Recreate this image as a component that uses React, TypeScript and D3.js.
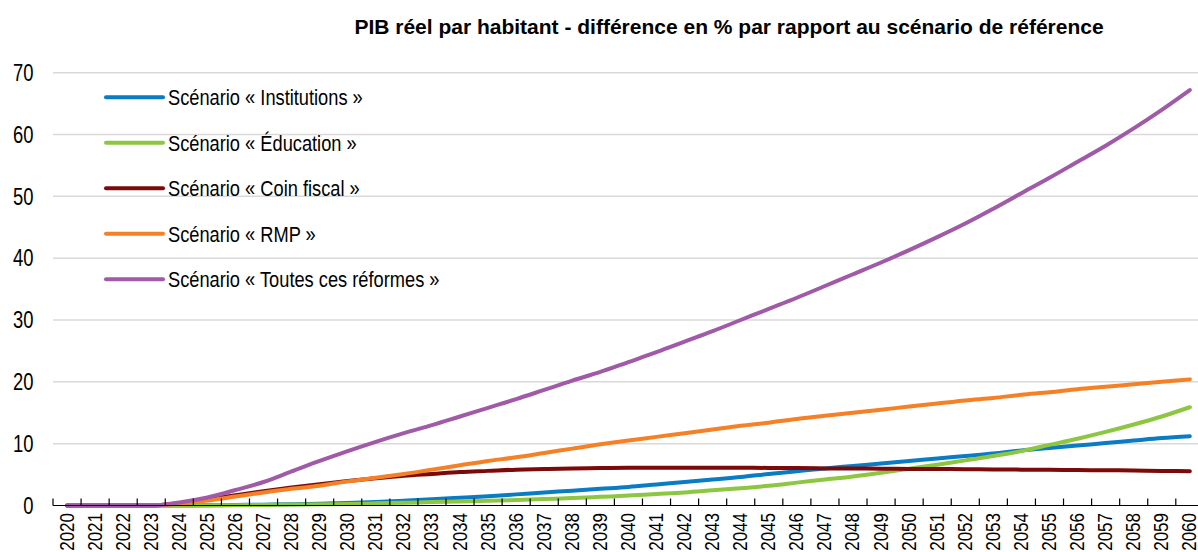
import React, { useEffect, useRef } from 'react';
import * as d3 from 'd3';

const years = d3.range(2020, 2061).map(String);

const institutions = [0, 0, 0, 0, 0, 0.03, 0.08, 0.13, 0.2, 0.3, 0.42, 0.58, 0.78, 1.0, 1.25, 1.5, 1.8, 2.1, 2.4, 2.7, 3.0, 3.4, 3.8, 4.2, 4.6, 5.1, 5.55, 6.0, 6.4, 6.8, 7.2, 7.6, 8.0, 8.4, 8.9, 9.3, 9.7, 10.1, 10.5, 10.9, 11.2];
const education = [0, 0, 0, 0, 0, 0.02, 0.05, 0.1, 0.15, 0.2, 0.25, 0.35, 0.45, 0.55, 0.65, 0.75, 0.9, 1.05, 1.2, 1.4, 1.6, 1.85, 2.1, 2.45, 2.8, 3.2, 3.7, 4.2, 4.7, 5.3, 5.95, 6.6, 7.3, 8.0, 8.8, 9.8, 10.8, 11.9, 13.1, 14.4, 15.9];
const coinFiscal = [0, 0, 0, 0, 0.35, 1.0, 1.65, 2.3, 2.9, 3.45, 3.95, 4.4, 4.8, 5.1, 5.4, 5.6, 5.8, 5.9, 6.0, 6.05, 6.1, 6.1, 6.1, 6.1, 6.1, 6.08, 6.05, 6.0, 5.98, 5.95, 5.92, 5.9, 5.87, 5.84, 5.8, 5.77, 5.73, 5.7, 5.66, 5.6, 5.55];
const rmp = [0, 0, 0, 0, 0.3, 0.8, 1.45, 2.1, 2.7, 3.2, 3.9, 4.5, 5.1, 5.8, 6.5, 7.2, 7.8, 8.5, 9.2, 9.9, 10.5, 11.1, 11.7, 12.3, 12.9, 13.4, 14.0, 14.5, 15.0, 15.5, 16.0, 16.5, 17.0, 17.4, 17.9, 18.3, 18.8, 19.2, 19.6, 20.0, 20.4];
const toutes = [0, 0, 0, 0, 0.5, 1.3, 2.5, 3.8, 5.5, 7.2, 8.8, 10.3, 11.7, 13.0, 14.4, 15.8, 17.2, 18.7, 20.2, 21.6, 23.2, 24.8, 26.5, 28.2, 30.0, 31.8, 33.6, 35.5, 37.4, 39.3, 41.3, 43.4, 45.6, 48.0, 50.5, 53.0, 55.6, 58.2, 61.0, 64.0, 67.2];

const seriesNames = [
  'Scénario « Institutions »',
  'Scénario « Éducation »',
  'Scénario « Coin fiscal »',
  'Scénario « RMP »',
  'Scénario « Toutes ces réformes »',
];
const seriesValues = [institutions, education, coinFiscal, rmp, toutes];
const seriesColors = ['#0a7cc4', '#8dc641', '#7d0a0a', '#f58025', '#a05aa8'];
const yTicks = [0, 10, 20, 30, 40, 50, 60, 70];

const title = 'PIB réel par habitant - différence en % par rapport au scénario de référence';

const W = 1198;
const H = 552;
const FONT = '"Liberation Sans", Arial, sans-serif';
const NARROW = 0.81; // mimic Arial Narrow

export default function App() {
  const ref = useRef<SVGSVGElement | null>(null);

  useEffect(() => {
    document.body.style.margin = '0';
    const svg = d3.select(ref.current);
    svg.selectAll('*').remove();

    const x = d3.scaleBand().domain(years).range([53, 53 + 41 * 28.07]).padding(0);
    const y = d3.scaleLinear().domain([0, 70]).range([505.5, 72.7]);
    const cx = (yr: string) => (x(yr) as number) + x.bandwidth() / 2;

    // gridlines
    svg.append('g')
      .selectAll('line')
      .data(yTicks.filter(t => t > 0))
      .join('line')
      .attr('x1', 53)
      .attr('x2', W)
      .attr('y1', d => y(d))
      .attr('y2', d => y(d))
      .attr('stroke', '#d9d9d9')
      .attr('stroke-width', 1.5);

    // y labels
    svg.append('g')
      .selectAll('text')
      .data(yTicks)
      .join('text')
      .attr('transform', d => `translate(33.5,${y(d)}) scale(0.8,1)`)
      .attr('dy', '0.36em')
      .attr('text-anchor', 'end')
      .style('font-family', FONT)
      .style('font-size', '23px')
      .attr('fill', '#000')
      .text(d => d);

    // lines
    const line = d3.line<number>()
      .x((_, i) => cx(years[i]))
      .y(d => y(d))
      .curve(d3.curveMonotoneX);

    svg.append('g')
      .selectAll('path')
      .data(seriesValues)
      .join('path')
      .attr('d', d => line(d))
      .attr('fill', 'none')
      .attr('stroke', (_, i) => seriesColors[i])
      .attr('stroke-width', 4)
      .attr('stroke-linecap', 'round');

    // x axis
    const ax = svg.append('g');
    ax.append('line')
      .attr('x1', 53).attr('x2', W)
      .attr('y1', y(0)).attr('y2', y(0))
      .attr('stroke', '#000').attr('stroke-width', 1.2);
    ax.selectAll('line.tick')
      .data(years)
      .join('line')
      .attr('class', 'tick')
      .attr('x1', d => x(d) as number)
      .attr('x2', d => x(d) as number)
      .attr('y1', y(0) - 7)
      .attr('y2', y(0))
      .attr('stroke', '#000')
      .attr('stroke-width', 1.2);
    ax.selectAll('text')
      .data(years)
      .join('text')
      .attr('transform', d => `translate(${cx(d) + 6.5},513) rotate(-90) scale(${NARROW},1)`)
      .attr('text-anchor', 'end')
      .style('font-family', FONT)
      .style('font-size', '21px')
      .attr('fill', '#000')
      .text(d => d);

    // legend
    const lg = svg.append('g')
      .selectAll('g')
      .data(seriesNames)
      .join('g')
      .attr('transform', (_, i) => `translate(106,${97.3 + i * 45.5})`);
    lg.append('line')
      .attr('x1', 0).attr('x2', 57)
      .attr('stroke', (_, i) => seriesColors[i])
      .attr('stroke-width', 4)
      .attr('stroke-linecap', 'round');
    lg.append('text')
      .attr('transform', `translate(62,0) scale(${NARROW + 0.02},1)`)
      .attr('dy', '0.36em')
      .style('font-family', FONT)
      .style('font-size', '22px')
      .attr('fill', '#000')
      .text(d => d);

    // title
    svg.append('text')
      .attr('x', 729)
      .attr('y', 33.5)
      .attr('text-anchor', 'middle')
      .style('font-family', FONT)
      .style('font-size', '21px')
      .style('font-weight', 'bold')
      .attr('fill', '#000')
      .text(title);
  }, []);

  return <svg ref={ref} width={W} height={H} style={{ display: 'block', background: '#fff' }} />;
}
